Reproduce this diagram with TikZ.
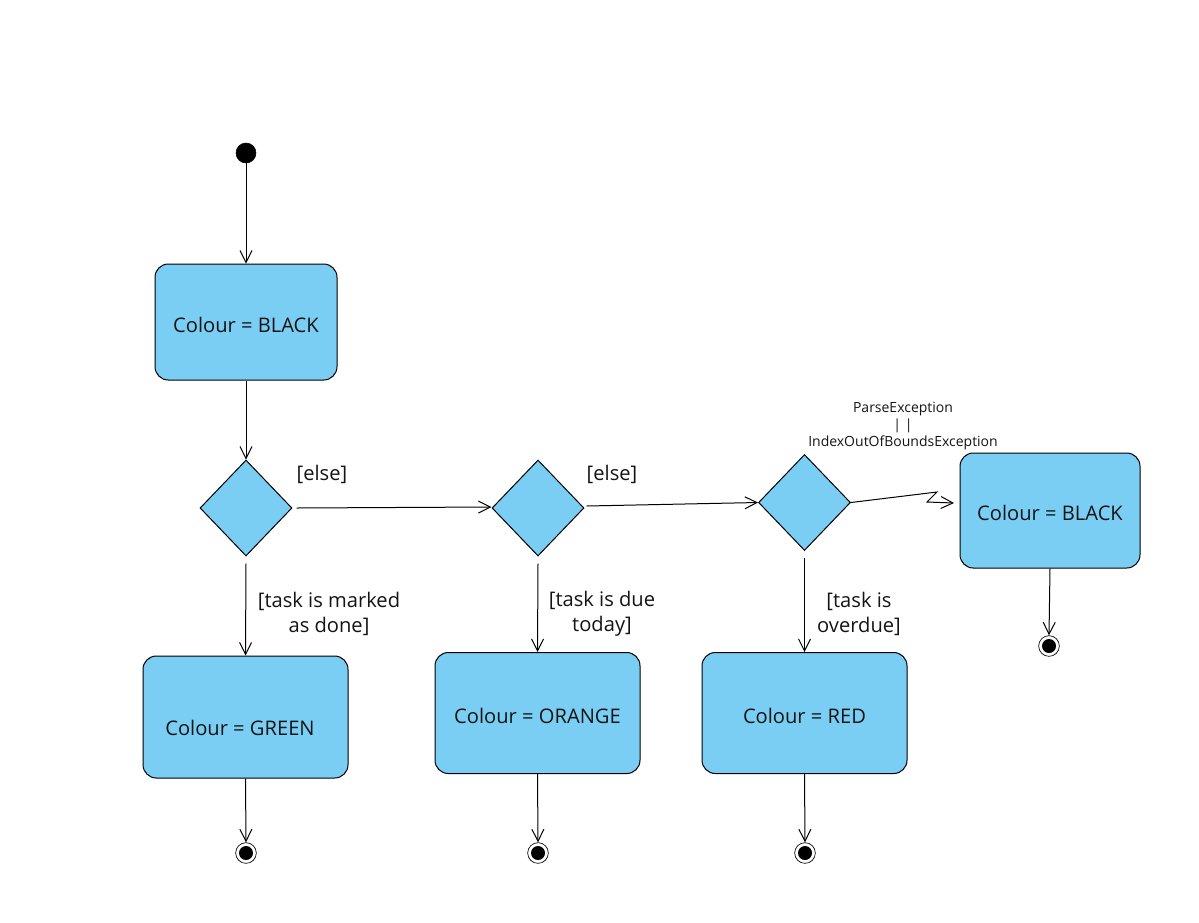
\documentclass[tikz,border=0pt]{standalone}
\usepackage{fontspec}
\setmainfont{Open Sans}
\usetikzlibrary{arrows.meta,shapes.geometric}
\definecolor{stfill}{RGB}{122,206,244}
\definecolor{txt}{RGB}{20,20,20}
\begin{document}
\begin{tikzpicture}[x=0.75pt,y=-0.75pt,
  every node/.style={text=txt},
  mainfont/.style={font=\fontsize{15.1}{19}\selectfont},
  state/.style={draw=black, fill=stfill, rounded corners=10pt, line width=0.75pt, inner sep=0pt, mainfont, text height=15pt, text depth=0pt},
  decision/.style={draw=black, fill=stfill, diamond, inner sep=0pt, line width=0.75pt, minimum width=69pt, minimum height=72pt},
  flow/.style={draw=black, line width=0.75pt, -{Straight Barb[length=9pt,width=9pt,line width=0.75pt]}},
  guard/.style={mainfont, align=center, inner sep=0pt},
  initnode/.style={circle, fill=black, draw=black, minimum size=15pt, inner sep=0pt},
  finalnode/.style={circle, draw=black, fill=white, line width=0.5pt, minimum size=15.5pt, inner sep=0pt},
  finaldot/.style={circle, fill=black, minimum size=10.5pt, inner sep=0pt}
]
\useasboundingbox (0,0) rectangle (1199,922);

% initial
\node[initnode] (init) at (246,153) {};

% states
\node[state, minimum width=136.5pt, minimum height=87pt] (black1) at (246,322) {Colour = BLACK};
\node[state, minimum width=153.75pt, minimum height=91.5pt] (green) at (245.5,717) {};
\node[mainfont, inner sep=0pt] (greentext) at (240,728) {Colour = GREEN};
\node[state, minimum width=153.75pt, minimum height=90.75pt] (orange) at (537.5,713) {Colour = ORANGE};
\node[state, minimum width=153.75pt, minimum height=90.75pt] (red) at (804.5,713) {Colour = RED};
\node[state, minimum width=135pt, minimum height=86.25pt] (black2) at (1050,510.5) {Colour = BLACK};

% decisions
\node[decision] (d1) at (246,508) {};
\node[decision] (d2) at (538,508) {};
\node[decision] (d3) at (804.5,502.5) {};

% finals
\node[finalnode] (f1) at (246,853) {};
\node[finaldot] at (f1.center) {};
\node[finalnode] (f2) at (538,853) {};
\node[finaldot] at (f2.center) {};
\node[finalnode] (f3) at (805,853) {};
\node[finaldot] at (f3.center) {};
\node[finalnode] (f4) at (1049,646) {};
\node[finaldot] at (f4.center) {};

% connectors
\draw[flow] (init) -- (black1.north);
\draw[flow] (black1.south) -- (d1.north);
\draw[flow] ([xshift=3pt]d1.east) -- ([yshift=0.75pt]d2.west);
\draw[flow] ([xshift=1.5pt,yshift=1.5pt]d2.east) -- (d3.west);
\draw[flow] ([yshift=-5.25pt]d1.south) -- (green.north);
\draw[flow] ([yshift=-5.25pt]d2.south) -- (orange.north);
\draw[flow] ([yshift=-5.25pt]d3.south) -- (red.north);
\draw[flow] (green.south) -- (f1.north);
\draw[flow] (orange.south) -- (f2.north);
\draw[flow] (red.south) -- (f3.north);
\draw[flow] (black2.south) -- (f4.north);

\coordinate (z1) at (937,492);
\coordinate (z2) at (927,502);
\coordinate (z3) at (954,503);
\draw[flow] (d3.east) -- (z1) -- (z2) -- (z3);

% guards
\node[guard] (else1) at (322,474.5) {[else]};
\node[guard] (else2) at (612,474.5) {[else]};
\node[guard] (g1) at (329,614) {[task is marked\\as done]};
\node[guard] (g2) at (602,614) {[task is due\\today]};
\node[guard] (g3) at (859,614) {[task is\\overdue]};
\node[align=center, inner sep=0pt, font=\fontsize{10.5}{12.6}\selectfont] (exc) at (903,426) {ParseException\\| |\\IndexOutOfBoundsException};
\end{tikzpicture}
\end{document}
